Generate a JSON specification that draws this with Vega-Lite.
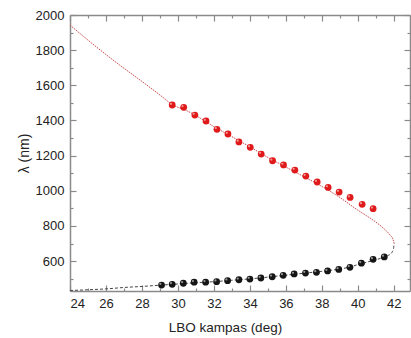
{
  "$schema": "https://vega.github.io/schema/vega-lite/v6.json",
  "width": 340,
  "height": 276,
  "autosize": {"type": "none"},
  "padding": {"left": 70, "top": 15, "right": 1, "bottom": 47},
  "background": "white",
  "config": {
    "view": {"stroke": null},
    "font": "Liberation Sans",
    "axis": {
      "grid": false,
      "domainColor": "#8a8a8a",
      "domainWidth": 1.5,
      "tickColor": "#8a8a8a",
      "tickWidth": 1.2,
      "labelFontSize": 13,
      "labelColor": "#222222",
      "titleFontSize": 14,
      "titleFontWeight": "normal",
      "titleColor": "#222222"
    }
  },
  "datasets": {
    "upper": [
      {"x": 24, "y": 1943}, {"x": 25, "y": 1857}, {"x": 26, "y": 1775}, {"x": 27, "y": 1697},
      {"x": 28, "y": 1622}, {"x": 29, "y": 1545}, {"x": 29.7, "y": 1490}, {"x": 30.5, "y": 1455},
      {"x": 31, "y": 1428}, {"x": 32, "y": 1365}, {"x": 33, "y": 1308}, {"x": 34, "y": 1250},
      {"x": 35, "y": 1190}, {"x": 36, "y": 1135}, {"x": 37, "y": 1080}, {"x": 38, "y": 1025},
      {"x": 39, "y": 962}, {"x": 40, "y": 890}, {"x": 40.5, "y": 857}, {"x": 41, "y": 822},
      {"x": 41.4, "y": 789}, {"x": 41.78, "y": 750}, {"x": 41.95, "y": 725}, {"x": 42.02, "y": 700}
    ],
    "lower": [
      {"x": 42.02, "y": 700}, {"x": 41.98, "y": 670}, {"x": 41.9, "y": 650}, {"x": 41.75, "y": 636},
      {"x": 41.5, "y": 624}, {"x": 41, "y": 608}, {"x": 40.5, "y": 594}, {"x": 40, "y": 580},
      {"x": 39.5, "y": 565}, {"x": 39, "y": 555}, {"x": 38, "y": 542}, {"x": 37, "y": 531},
      {"x": 36, "y": 520}, {"x": 35, "y": 509}, {"x": 34, "y": 499}, {"x": 33, "y": 491},
      {"x": 32, "y": 483}, {"x": 31, "y": 477}, {"x": 30, "y": 470}, {"x": 29, "y": 463},
      {"x": 28, "y": 456}, {"x": 27, "y": 450}, {"x": 26, "y": 442}, {"x": 25, "y": 437},
      {"x": 24, "y": 433}
    ],
    "pts": [
      {"branch": "upper", "x": 29.68, "y": 1488}, {"branch": "upper", "x": 30.32, "y": 1475},
      {"branch": "upper", "x": 30.94, "y": 1431}, {"branch": "upper", "x": 31.56, "y": 1397},
      {"branch": "upper", "x": 32.17, "y": 1350}, {"branch": "upper", "x": 32.78, "y": 1323},
      {"branch": "upper", "x": 33.39, "y": 1278}, {"branch": "upper", "x": 34.02, "y": 1247},
      {"branch": "upper", "x": 34.63, "y": 1209}, {"branch": "upper", "x": 35.26, "y": 1171},
      {"branch": "upper", "x": 35.87, "y": 1147}, {"branch": "upper", "x": 36.5, "y": 1118},
      {"branch": "upper", "x": 37.11, "y": 1084}, {"branch": "upper", "x": 37.74, "y": 1050},
      {"branch": "upper", "x": 38.35, "y": 1019}, {"branch": "upper", "x": 38.96, "y": 993},
      {"branch": "upper", "x": 39.57, "y": 962}, {"branch": "upper", "x": 40.24, "y": 923},
      {"branch": "upper", "x": 40.85, "y": 898},
      {"branch": "lower", "x": 29.09, "y": 464}, {"branch": "lower", "x": 29.68, "y": 468},
      {"branch": "lower", "x": 30.3, "y": 474}, {"branch": "lower", "x": 30.9, "y": 480},
      {"branch": "lower", "x": 31.54, "y": 480}, {"branch": "lower", "x": 32.15, "y": 483},
      {"branch": "lower", "x": 32.76, "y": 489}, {"branch": "lower", "x": 33.39, "y": 494},
      {"branch": "lower", "x": 34.0, "y": 498}, {"branch": "lower", "x": 34.61, "y": 504},
      {"branch": "lower", "x": 35.24, "y": 511}, {"branch": "lower", "x": 35.85, "y": 519},
      {"branch": "lower", "x": 36.46, "y": 527}, {"branch": "lower", "x": 37.09, "y": 532},
      {"branch": "lower", "x": 37.7, "y": 536}, {"branch": "lower", "x": 38.32, "y": 544},
      {"branch": "lower", "x": 38.94, "y": 553}, {"branch": "lower", "x": 39.56, "y": 565},
      {"branch": "lower", "x": 40.2, "y": 588}, {"branch": "lower", "x": 40.85, "y": 610},
      {"branch": "lower", "x": 41.47, "y": 624}
    ]
  },
  "layer": [
    {
      "data": {"name": "upper"},
      "mark": {"type": "line", "color": "#c84a4a", "strokeWidth": 1, "strokeDash": [1.5, 1], "interpolate": "monotone"},
      "encoding": {
        "x": {
          "field": "x", "type": "quantitative",
          "scale": {"domain": [24, 42.9], "nice": false, "zero": false},
          "axis": {
            "orient": "bottom",
            "values": [24, 25, 26, 27, 28, 29, 30, 31, 32, 33, 34, 35, 36, 37, 38, 39, 40, 41, 42],
            "labelExpr": "datum.value % 2 === 0 ? datum.label : ''",
            "tickSize": {"condition": {"test": "datum.value % 2 === 0", "value": -6}, "value": -3},
            "labelPadding": 12,
            "title": "LBO kampas (deg)",
            "titleFontSize": 13.5,
            "titlePadding": 10,
            "titleX": 155
          }
        },
        "y": {
          "field": "y", "type": "quantitative",
          "scale": {"domain": [430, 2000], "nice": false, "zero": false},
          "axis": {
            "orient": "left",
            "values": [500, 600, 700, 800, 900, 1000, 1100, 1200, 1300, 1400, 1500, 1600, 1700, 1800, 1900, 2000],
            "labelExpr": "datum.value % 200 === 0 ? datum.label : ''",
            "tickSize": {"condition": {"test": "datum.value % 200 === 0", "value": -6}, "value": -3},
            "labelPadding": 12,
            "format": "d",
            "title": "λ (nm)",
            "titlePadding": 4
          }
        }
      }
    },
    {
      "data": {"name": "lower"},
      "mark": {"type": "line", "color": "#444444", "strokeWidth": 1, "strokeDash": [3, 2], "interpolate": "monotone"},
      "encoding": {
        "x": {"field": "x", "type": "quantitative", "axis": null},
        "y": {"field": "y", "type": "quantitative", "axis": null}
      }
    },
    {
      "data": {"name": "pts"},
      "mark": {"type": "point", "filled": true, "opacity": 1, "size": 46, "strokeWidth": 0.6},
      "encoding": {
        "x": {"field": "x", "type": "quantitative", "axis": null},
        "y": {"field": "y", "type": "quantitative", "axis": null},
        "color": {"field": "branch", "type": "nominal", "scale": {"domain": ["upper", "lower"], "range": ["#e01a1a", "#151515"]}, "legend": null}
      }
    },
    {
      "data": {"name": "pts"},
      "mark": {"type": "point", "filled": true, "color": "#ffffff", "opacity": 0.55, "size": 5, "xOffset": -1.2, "yOffset": -1.2},
      "encoding": {
        "x": {"field": "x", "type": "quantitative", "axis": null},
        "y": {"field": "y", "type": "quantitative", "axis": null}
      }
    },
    {
      "data": {"name": "pts"},
      "mark": {"type": "point", "opacity": 0},
      "encoding": {
        "x": {
          "field": "x", "type": "quantitative",
          "axis": {
            "orient": "top",
            "values": [24, 25, 26, 27, 28, 29, 30, 31, 32, 33, 34, 35, 36, 37, 38, 39, 40, 41, 42],
            "labels": false,
            "tickSize": {"condition": {"test": "datum.value % 2 === 0", "value": -6}, "value": -3},
            "title": null
          }
        },
        "y": {
          "field": "y", "type": "quantitative",
          "axis": {
            "orient": "right",
            "values": [500, 600, 700, 800, 900, 1000, 1100, 1200, 1300, 1400, 1500, 1600, 1700, 1800, 1900, 2000],
            "labels": false,
            "tickSize": {"condition": {"test": "datum.value % 200 === 0", "value": -6}, "value": -3},
            "title": null
          }
        }
      }
    }
  ],
  "resolve": {"axis": {"x": "independent", "y": "independent"}}
}
